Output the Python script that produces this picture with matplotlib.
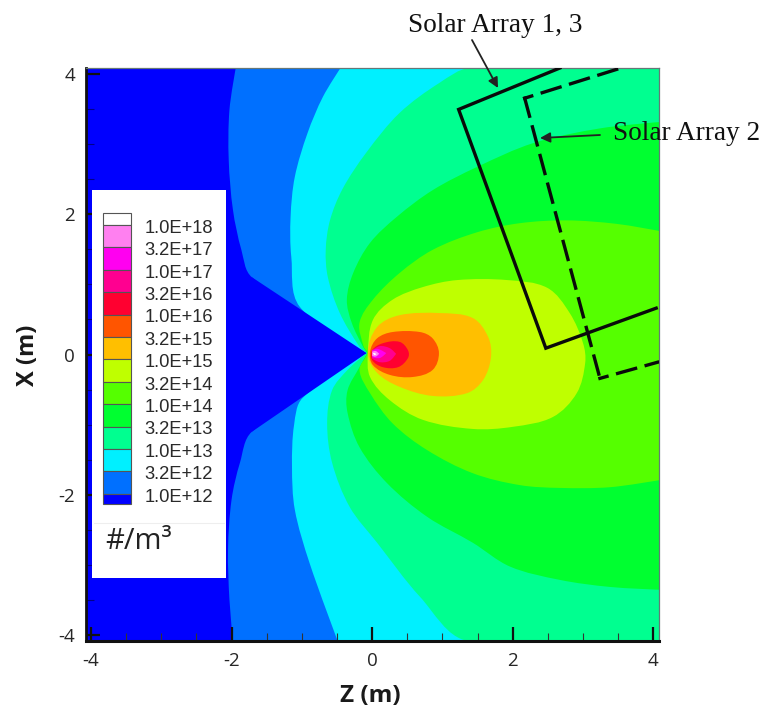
import numpy as np
import matplotlib
matplotlib.use("Agg")
import matplotlib.pyplot as plt
from matplotlib.patches import PathPatch, Rectangle
from matplotlib.path import Path
from matplotlib.ticker import MultipleLocator

plt.rcParams["axes.unicode_minus"] = False

## Data: contour boundaries, as (Z, X) in metres
Z_MIN, Z_MAX = -4.07, 4.08
X_MIN, X_MAX = -4.08, 4.08

level_labels = ["1.0E+18", "3.2E+17", "1.0E+17", "3.2E+16", "1.0E+16", "3.2E+15", "1.0E+15",
                "3.2E+14", "1.0E+14", "3.2E+13", "1.0E+13", "3.2E+12", "1.0E+12"]
level_colors = ["#ffffff", "#ff80f0", "#ff00f0", "#ff0090", "#ff0030", "#ff5500", "#ffbf00",
                "#bfff00", "#55ff00", "#00ff30", "#00ff90", "#00f0ff", "#0070ff", "#0000ff"]

b_32e12 = [(-1.94, 4.08), (-2.03, 3.48), (-2.04, 2.77), (-1.98, 2.06), (-1.86, 1.49), (-1.71, 1.10),
           (-0.08, 0.02), (-1.71, -1.10), (-1.88, -1.54), (-2.00, -2.07), (-2.05, -2.78), (-2.03, -3.49),
           (-1.98, -4.08), (4.08, -4.08), (4.08, 4.08)]
b_1e13 = [(-0.45, 4.08), (-0.70, 3.67), (-0.92, 3.15), (-1.10, 2.53), (-1.16, 1.96), (-1.15, 1.39),
          (-1.03, 0.68), (-0.08, 0.02), (-0.99, -0.62), (-1.11, -1.00), (-1.14, -1.60), (-1.10, -2.21),
          (-0.89, -2.97), (-0.49, -4.08), (4.08, -4.08), (4.08, 4.08)]
b_32e13 = [(1.39, 4.08), (0.96, 3.87), (0.39, 3.44), (-0.08, 2.88), (-0.42, 2.36), (-0.60, 1.91),
           (-0.66, 1.49), (-0.63, 1.10), (-0.46, 0.59), (-0.18, 0.11), (-0.08, 0.02), (-0.35, -0.22),
           (-0.57, -0.51), (-0.64, -0.98), (-0.57, -1.54), (-0.32, -2.17), (0.07, -2.68), (0.68, -3.45),
           (1.36, -4.08), (4.08, -4.08), (4.08, 4.08)]
b_1e14 = [(4.08, 3.31), (3.24, 3.22), (2.29, 3.01), (1.49, 2.67), (0.86, 2.34), (0.35, 1.96), (-0.03, 1.59),
          (-0.27, 1.16), (-0.36, 0.78), (-0.29, 0.45), (-0.13, 0.11), (-0.07, 0.02), (-0.18, -0.18),
          (-0.35, -0.51), (-0.35, -0.83), (-0.18, -1.32), (0.21, -1.83), (0.78, -2.31), (1.43, -2.68),
          (1.96, -3.02), (2.67, -3.21), (3.38, -3.31), (4.08, -3.35)]
b_32e14 = [(4.08, 1.76), (3.48, 1.86), (2.77, 1.91), (2.10, 1.87), (1.49, 1.74), (0.86, 1.49), (0.39, 1.16),
           (0.01, 0.78), (-0.18, 0.45), (-0.12, 0.11), (-0.07, 0.02), (-0.18, -0.22), (-0.03, -0.55),
           (0.29, -0.98), (0.78, -1.36), (1.43, -1.69), (2.10, -1.86), (2.67, -1.90), (3.38, -1.89),
           (4.08, -1.79)]
b_1e15 = [(-0.06, 0.02), (0.01, 0.49), (0.29, 0.78), (0.72, 0.96), (1.21, 1.06), (1.92, 1.06), (2.49, 0.95),
          (2.81, 0.59), (3.00, 0.16), (3.03, -0.12), (2.91, -0.55), (2.57, -0.89), (2.00, -1.03),
          (1.43, -1.06), (0.72, -0.93), (0.25, -0.65), (-0.03, -0.32)]
b_32e15 = [(-0.06, 0.02), (0.07, 0.39), (0.39, 0.56), (0.96, 0.59), (1.43, 0.52), (1.65, 0.25), (1.69, -0.04),
           (1.58, -0.36), (1.35, -0.55), (0.86, -0.59), (0.39, -0.46), (0.07, -0.26)]
b_1e16 = [(-0.03, 0.04), (0.07, 0.23), (0.29, 0.32), (0.68, 0.32), (0.86, 0.23), (0.95, 0.02), (0.86, -0.22),
          (0.58, -0.32), (0.25, -0.29), (0.01, -0.15)]
b_32e16 = [(0.00, 0.06), (0.15, 0.16), (0.39, 0.18), (0.51, 0.06), (0.51, -0.05), (0.37, -0.18), (0.15, -0.18),
           (0.00, -0.08)]
b_1e17 = [(0.00, 0.06), (0.11, 0.12), (0.25, 0.09), (0.34, 0.01), (0.25, -0.09), (0.11, -0.11), (0.00, -0.06)]
b_32e17 = [(0.00, 0.06), (0.08, 0.08), (0.20, 0.02), (0.11, -0.05), (0.00, -0.04)]
b_1e18 = [(0.00, 0.04), (0.05, 0.05), (0.10, 0.01), (0.05, -0.03), (0.00, -0.02)]
b_above = [(0.01, 0.02), (0.04, 0.02), (0.06, 0.00), (0.03, -0.01)]

# outermost first, painted over each other
boundaries = [b_32e12, b_1e13, b_32e13, b_1e14, b_32e14, b_1e15, b_32e15, b_1e16, b_32e16,
              b_1e17, b_32e17, b_1e18, b_above]

# the empty wedge behind the thruster exit
wedge_z = [-1.71, -0.08, -1.71]
wedge_x = [1.10, 0.02, -1.10]

array_13_z = [2.67, 1.23, 2.47, 4.04]
array_13_x = [4.08, 3.49, 0.09, 0.66]
array_2_top_z = [2.17, 3.54]
array_2_top_x = [3.65, 4.08]
array_2_side_z = [2.17, 3.24]
array_2_side_x = [3.65, -0.34]
array_2_low_z = [3.24, 4.06]
array_2_low_x = [-0.34, -0.11]


def smooth_path(pts):
    # bezier through the read points, sharp vertices stay sharp
    p = np.array(pts, dtype=float)
    n = len(p)
    tang = np.zeros_like(p)
    for i in range(n):
        a, b, c = p[i-1], p[i], p[(i+1) % n]
        u, v = b-a, c-b
        cos = np.dot(u, v) / (np.linalg.norm(u)*np.linalg.norm(v))
        if cos > 0.55:
            tang[i] = (c-a) / np.linalg.norm(c-a)
    verts = [p[0]]
    codes = [Path.MOVETO]
    for i in range(n):
        j = (i+1) % n
        d = np.linalg.norm(p[j]-p[i]) / 3
        verts += [p[i]+tang[i]*d, p[j]-tang[j]*d, p[j]]
        codes += [Path.CURVE4]*3
    return Path(verts, codes)


## Figure
W, H = 763, 713
fig = plt.figure(figsize=(W/100, H/100), dpi=100, facecolor="white")
ax = fig.add_axes([86/W, 1-641/H, (659-86)/W, (641-68)/H])
ax.set_xlim(Z_MIN, Z_MAX)
ax.set_ylim(X_MIN, X_MAX)
ax.set_facecolor(level_colors[-1])

fills = level_colors[-2::-1]
for i, (b, c) in enumerate(zip(boundaries, fills)):
    ax.add_patch(PathPatch(smooth_path(b), fc=c, ec="none", lw=0, zorder=1+i*0.01))
ax.fill(wedge_z, wedge_x, color=level_colors[-1], lw=0, zorder=1.045)

ink = dict(color="#0a0a0a", lw=2.4, zorder=3)
ax.plot(array_13_z, array_13_x, solid_joinstyle="miter", **ink)
ax.plot(array_2_side_z, array_2_side_x, ls=(0, (5.6, 3.3)), dash_capstyle="projecting", **ink)
ax.plot(array_2_top_z, array_2_top_x, ls=(3.4, (5.6, 3.3)), dash_capstyle="projecting", **ink)
ax.plot(array_2_low_z, array_2_low_x, ls=(3.4, (5.6, 3.3)), dash_capstyle="projecting", **ink)

## Axes
ax.xaxis.set_major_locator(MultipleLocator(2))
ax.yaxis.set_major_locator(MultipleLocator(2))
ax.xaxis.set_minor_locator(MultipleLocator(0.5))
ax.yaxis.set_minor_locator(MultipleLocator(0.5))
ax.tick_params(which="major", direction="in", length=10, width=1.6, color="#111111", pad=8,
               labelsize=13.5, labelcolor="#262626")
ax.tick_params(which="minor", direction="in", length=5.5, width=0.8, color="#333333")
ax.tick_params(axis="y", which="minor", color="#000088")
for t in ax.get_xticklabels() + ax.get_yticklabels():
    t.set_fontfamily("Open Sans")
    t.set_fontweight("medium")
ax.spines["left"].set(linewidth=2.0, color="#111111")
ax.spines["bottom"].set(linewidth=2.2, color="#111111")
ax.spines["top"].set(linewidth=0.9, color="#667777")
ax.spines["right"].set(linewidth=0.9, color="#667777")

# overlay in picture pixels, for the colour key and the notes
over = fig.add_axes([0, 0, 1, 1], facecolor="none")
over.set_xlim(0, W)
over.set_ylim(H, 0)
over.axis("off")

over.add_patch(Rectangle((92, 190), 134, 388, fc="white", ec="none"))
over.plot([94, 224], [523, 523], color="#eeeeee", lw=0.8)

tops = [213, 225] + [225 + 22.4*i for i in range(1, 13)]
bottoms = tops[1:] + [504]
for top, bot, c in zip(tops, bottoms, level_colors):
    over.add_patch(Rectangle((103, top), 28, bot-top, fc=c, ec="#555555", lw=0.8))
for i, lab in enumerate(level_labels):
    over.text(213, 228.3 + 22.4*i, lab, ha="right", va="center", fontsize=13.2, color="#2a2a2a",
              family="Liberation Sans")
over.text(105, 549, "#/m³", ha="left", va="baseline", fontsize=21, color="#222222", family="Open Sans")

over.text(28, 355, "X (m)", rotation=90, ha="center", va="center", fontsize=17, fontweight="bold",
          color="#1a1a1a", family="Open Sans")
over.text(370, 696, "Z (m)", ha="center", va="center", fontsize=17.5, fontweight="bold",
          color="#1a1a1a", family="Open Sans")

over.text(495.5, 25, "Solar Array 1, 3", ha="center", va="center", fontsize=19.6, color="#111111",
          family="Liberation Serif")
over.text(613, 133, "Solar Array 2", ha="left", va="center", fontsize=19.6, color="#111111",
          family="Liberation Serif")
arrow = dict(arrowstyle="-|>", color="#222222", lw=1.3, mutation_scale=15, shrinkA=0, shrinkB=0)
over.annotate("", xy=(498, 88), xytext=(472, 40), arrowprops=arrow)
over.annotate("", xy=(540, 138), xytext=(600, 135), arrowprops=arrow)

fig.savefig("out.png", dpi=100)
